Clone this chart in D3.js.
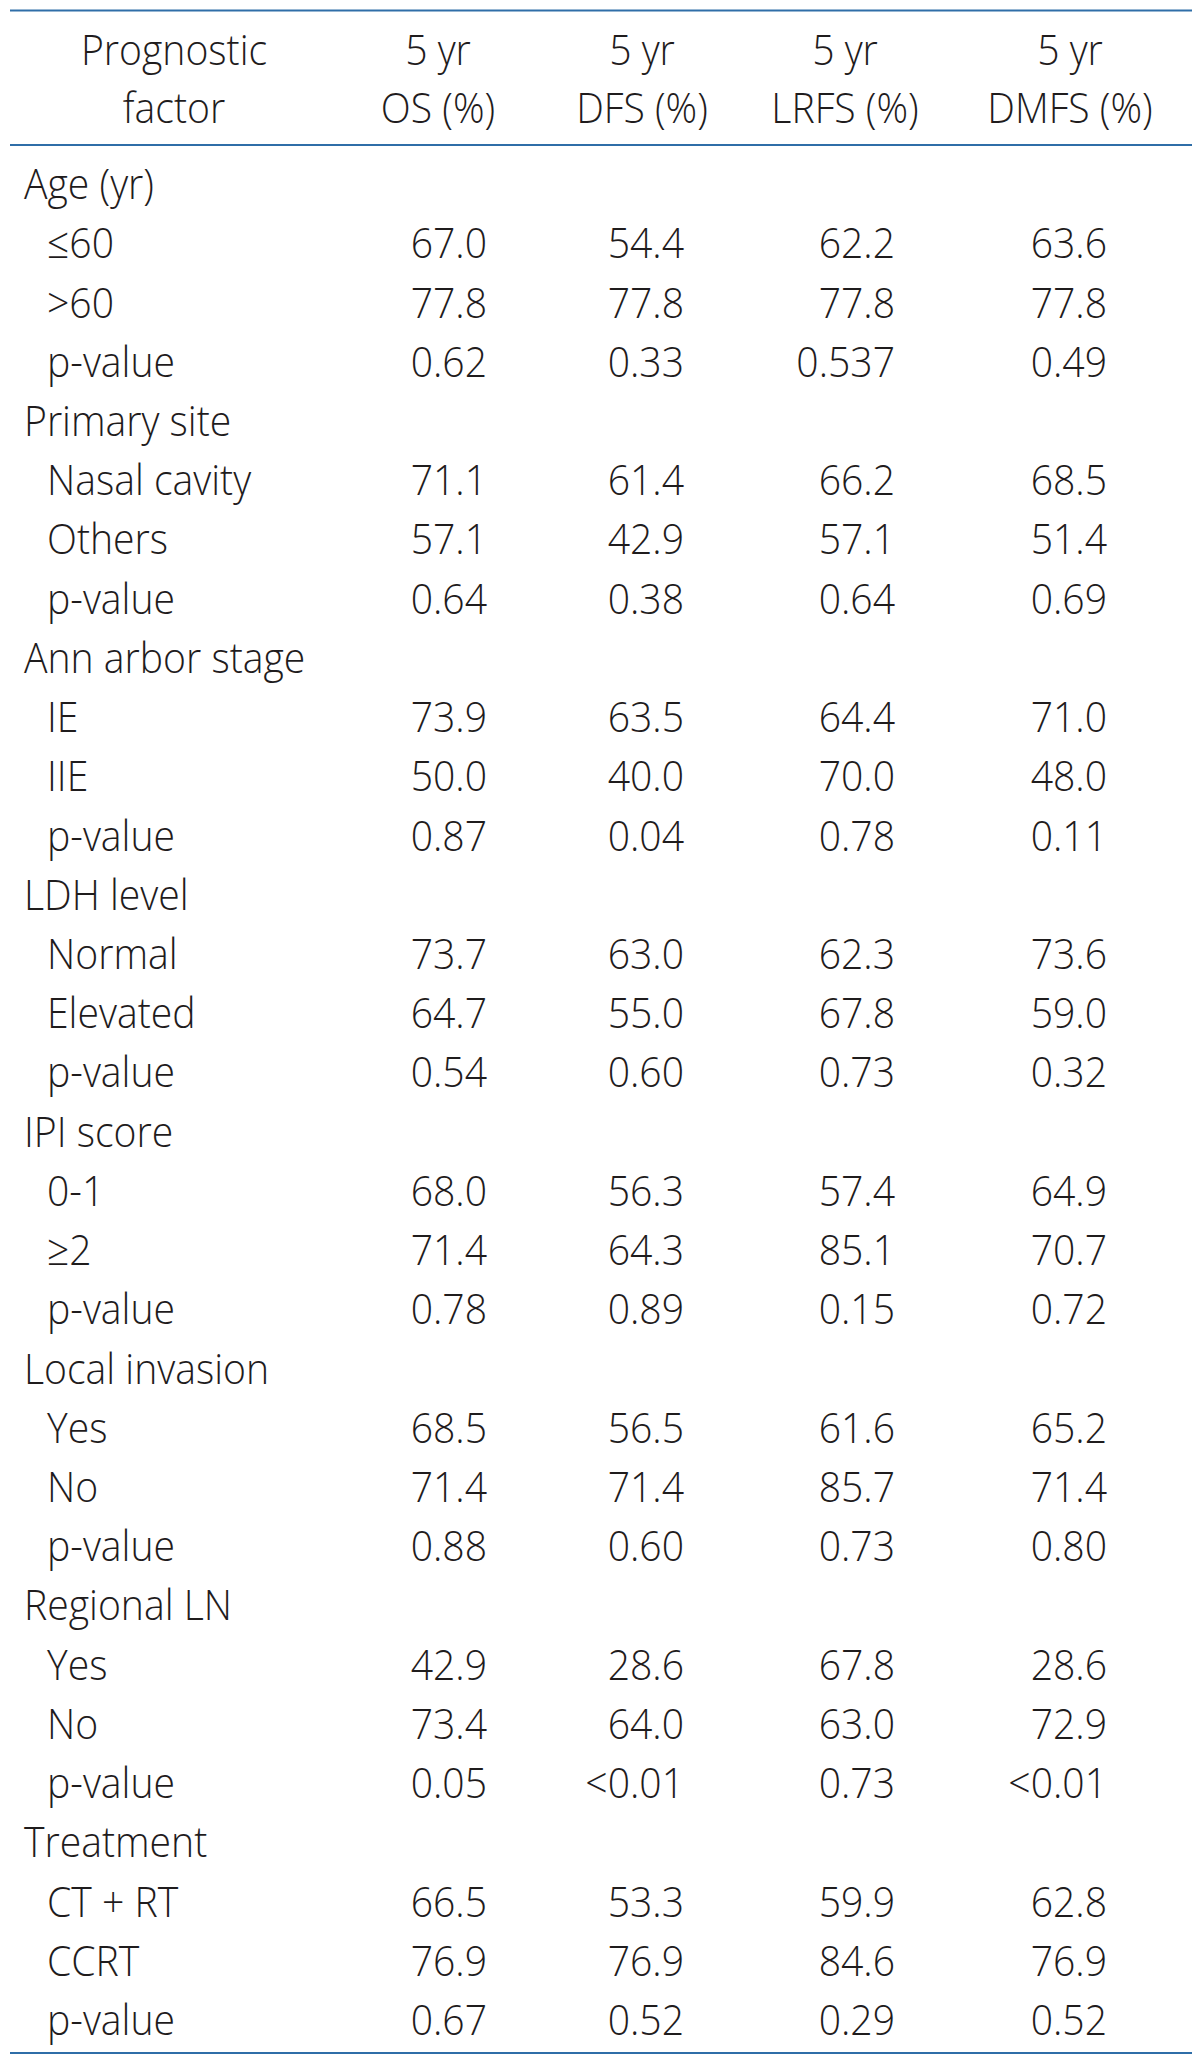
<!DOCTYPE html>
<html><head><meta charset="utf-8">
<script src="https://cdn.jsdelivr.net/npm/d3@7"></script>
<style>html,body{margin:0;padding:0;background:#fff;}</style>
</head><body>
<svg id="c" width="1200" height="2063"></svg>
<script>
const headerLine1 = ["Prognostic", "5 yr", "5 yr", "5 yr", "5 yr"];
const headerLine2 = ["factor", "OS (%)", "DFS (%)", "LRFS (%)", "DMFS (%)"];
const columns = ["OS", "DFS", "LRFS", "DMFS"];
const groups = ["Age (yr)", "Primary site", "Ann arbor stage", "LDH level", "IPI score", "Local invasion", "Regional LN", "Treatment"];
const subLabels = [
  ["≤60", ">60", "p-value"],
  ["Nasal cavity", "Others", "p-value"],
  ["IE", "IIE", "p-value"],
  ["Normal", "Elevated", "p-value"],
  ["0-1", "≥2", "p-value"],
  ["Yes", "No", "p-value"],
  ["Yes", "No", "p-value"],
  ["CT + RT", "CCRT", "p-value"]
];
const OS = [["67.0","77.8","0.62"],["71.1","57.1","0.64"],["73.9","50.0","0.87"],["73.7","64.7","0.54"],["68.0","71.4","0.78"],["68.5","71.4","0.88"],["42.9","73.4","0.05"],["66.5","76.9","0.67"]];
const DFS = [["54.4","77.8","0.33"],["61.4","42.9","0.38"],["63.5","40.0","0.04"],["63.0","55.0","0.60"],["56.3","64.3","0.89"],["56.5","71.4","0.60"],["28.6","64.0","<0.01"],["53.3","76.9","0.52"]];
const LRFS = [["62.2","77.8","0.537"],["66.2","57.1","0.64"],["64.4","70.0","0.78"],["62.3","67.8","0.73"],["57.4","85.1","0.15"],["61.6","85.7","0.73"],["67.8","63.0","0.73"],["59.9","84.6","0.29"]];
const DMFS = [["63.6","77.8","0.49"],["68.5","51.4","0.69"],["71.0","48.0","0.11"],["73.6","59.0","0.32"],["64.9","70.7","0.72"],["65.2","71.4","0.80"],["28.6","72.9","<0.01"],["62.8","76.9","0.52"]];
const seriesValues = {OS, DFS, LRFS, DMFS};

const rows = [];
groups.forEach((g, gi) => {
  rows.push({label: g, level: 0, vals: null});
  subLabels[gi].forEach((s, si) => {
    rows.push({label: s, level: 1, vals: columns.map(c => seriesValues[c][gi][si])});
  });
});

const svg = d3.select("#c");
const lineColor = "#2f6ea8";
const textColor = "#1f1c1d";
const font = "'Open Sans', 'Noto Sans', sans-serif";
const fs = 43;
const sx = 0.91;

const y = d3.scaleLinear().domain([0, rows.length - 1]).range([184, 2020]);
const xHeaderCenter = d3.scaleOrdinal().domain(["label", ...columns]).range([174, 438, 642, 845, 1070]);
const xValueRight = d3.scaleOrdinal().domain(columns).range([487, 684, 895, 1107]);
const xIndent = d3.scaleOrdinal().domain([0, 1]).range([24, 47]);
const hy = d3.scaleLinear().domain([0, 1]).range([50, 108]);

function styleText(sel) {
  return sel.attr("font-family", font).attr("font-size", fs).attr("font-weight", 300)
    .attr("fill", textColor).attr("dy", "0.35em");
}

const rules = [10.5, 145, 2053];
svg.selectAll("line.rule").data(rules).join("line")
  .attr("class", "rule")
  .attr("x1", 10).attr("x2", 1192)
  .attr("y1", d => d).attr("y2", d => d)
  .attr("stroke", lineColor).attr("stroke-width", 2.2);

const hdrKeys = ["label", ...columns];
[headerLine1, headerLine2].forEach((line, li) => {
  svg.selectAll("text.h" + li).data(line).join("text")
    .attr("class", "h" + li)
    .attr("transform", (d, i) => `translate(${xHeaderCenter(hdrKeys[i])},${hy(li)}) scale(${sx},1)`)
    .attr("text-anchor", "middle")
    .call(styleText)
    .text(d => d);
});

svg.selectAll("text.rl").data(rows).join("text")
  .attr("class", "rl")
  .attr("transform", (d, i) => `translate(${xIndent(d.level)},${y(i)}) scale(${sx},1)`)
  .call(styleText)
  .text(d => d.label);

rows.forEach((r, i) => {
  if (!r.vals) return;
  svg.selectAll(null).data(r.vals).join("text")
    .attr("transform", (d, ci) => `translate(${xValueRight(columns[ci])},${y(i)}) scale(${sx},1)`)
    .attr("text-anchor", "end")
    .call(styleText)
    .text(d => d);
});
</script>
</body></html>
